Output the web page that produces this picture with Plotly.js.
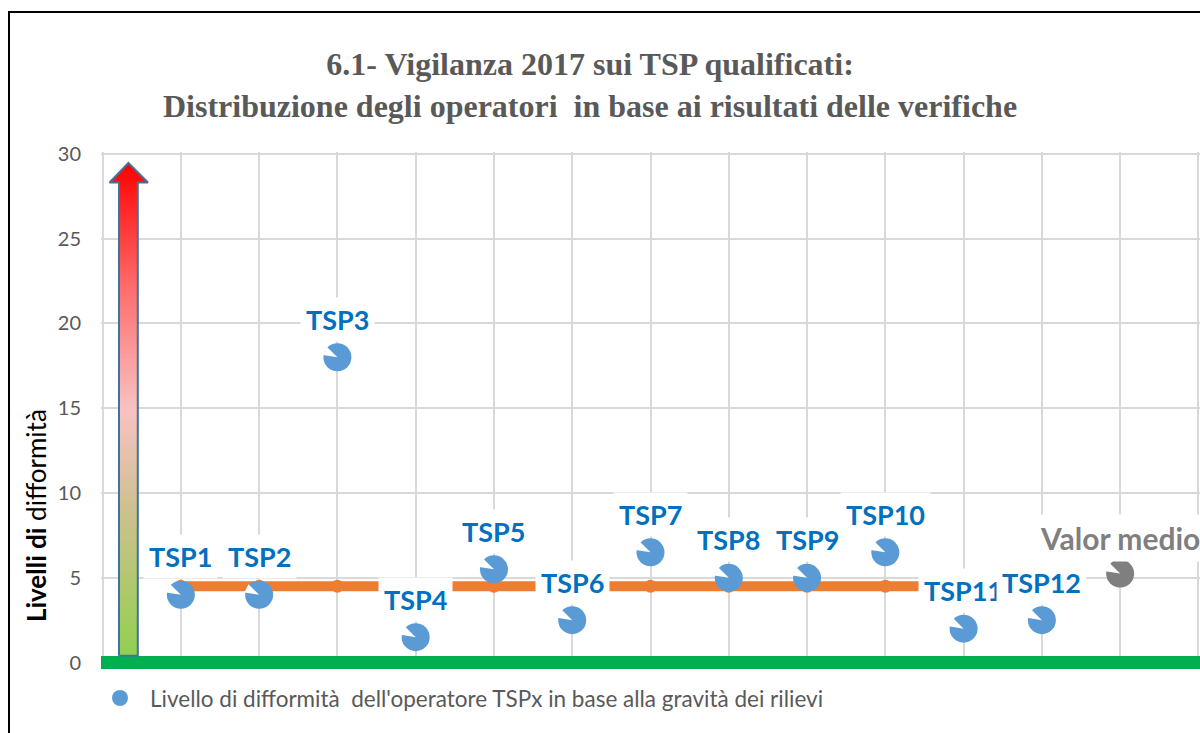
<!DOCTYPE html>
<html>
<head>
<meta charset="utf-8">
<script src="https://cdn.plot.ly/plotly-3.0.1.min.js"></script>
<style>
  html, body { margin: 0; padding: 0; background: #fff; overflow: hidden; }
  #chart { width: 1200px; height: 733px; }
  #frame { position: absolute; left: 8px; top: 11px; width: 1300px; height: 800px;
           border-left: 2px solid #000; border-top: 2px solid #000; pointer-events: none; z-index: 10; }
</style>
</head>
<body>
<div id="frame"></div>
<div id="chart"></div>
<script>
// ---- data ----
const operators = ['TSP1','TSP2','TSP3','TSP4','TSP5','TSP6','TSP7','TSP8','TSP9','TSP10','TSP11','TSP12'];
const levels    = [4, 4, 18, 1.5, 5.5, 2.5, 6.5, 5, 5, 6.5, 2, 2.5];
const medianLine = [4.5, 4.5, 4.5, 4.5, 4.5, 4.5, 4.5, 4.5, 4.5, 4.5, 4.5, 4.5];
const meanLabel = 'Valor medio';
const meanValue = 5.25;
const yTicks = [0, 5, 10, 15, 20, 25, 30];
const legendName = "Livello di difformit\u00e0 \u00a0dell'operatore TSPx in base alla gravit\u00e0 dei rilievi";

// decorative severity arrow (outline in axis units)
const arrowX = [0.21, 0.21, 0.09, 0.33, 0.58, 0.45, 0.45, 0.21];
const arrowY = [0.4, 28.3, 28.3, 29.45, 28.3, 28.3, 0.4, 0.4];

const xs = operators.map((_, i) => i + 1);
const meanX = operators.length + 1;

const blue = '#5b9bd5';
const labelBlue = '#0070c0';
const grey = '#7f7f7f';

const traces = [
  {
    x: arrowX, y: arrowY, type: 'scatter', mode: 'lines', fill: 'toself',
    line: { color: '#41719c', width: 2 },
    fillgradient: { type: 'vertical',
      colorscale: [[0, '#92d050'], [0.3, '#cfc090'], [0.5, '#f9c2c2'], [0.75, '#ff6b6b'], [1, '#ff0000']] },
    hoverinfo: 'skip', showlegend: false
  },
  {
    x: xs, y: medianLine, type: 'scatter', mode: 'lines+markers',
    line: { color: '#ed7d31', width: 10 },
    marker: { color: '#ed7d31', size: 13 },
    hoverinfo: 'skip', showlegend: false
  },
  {
    x: xs, y: levels, type: 'scatter', mode: 'markers', name: legendName,
    marker: { color: blue, size: 28, line: { width: 0 } },
    showlegend: true
  },
  {
    x: [meanX], y: [meanValue], type: 'scatter', mode: 'markers',
    marker: { color: grey, size: 28, line: { width: 0 } },
    showlegend: false
  },
  {
    x: xs.concat([meanX]), y: levels.concat([meanValue]), type: 'scatter', mode: 'markers',
    marker: { symbol: 'arrow', angle: 117, color: '#ffffff', size: 15, line: { width: 0 } },
    hoverinfo: 'skip', showlegend: false
  }
];

const annotations = operators.map((name, i) => ({
  x: xs[i], y: levels[i], xref: 'x', yref: 'y', text: '<b>' + name + '</b>',
  showarrow: false, yshift: 38, bgcolor: '#ffffff', borderpad: 5,
  font: { family: 'Lato, sans-serif', size: 27, color: labelBlue }
}));
annotations.push({
  x: meanX, y: meanValue, xref: 'x', yref: 'y', text: '<b>' + meanLabel + '</b>',
  showarrow: false, yshift: 36, bgcolor: '#ffffff', borderpad: 5,
  font: { family: 'Lato, sans-serif', size: 30, color: grey }
});
annotations.push({
  xref: 'paper', yref: 'paper', x: -0.059, y: 0.292, xanchor: 'center', yanchor: 'middle',
  textangle: -90, showarrow: false,
  text: '<b>Livelli di</b> difformit\u00e0',
  font: { family: 'Lato, sans-serif', size: 26, color: '#000000' }
});

const layout = {
  width: 1200, height: 733,
  margin: { l: 101, r: 0, t: 152, b: 67 },
  paper_bgcolor: '#ffffff', plot_bgcolor: '#ffffff',
  title: {
    text: '<b>6.1- Vigilanza 2017 sui TSP qualificati:</b><br><b>Distribuzione degli operatori \u00a0in base ai risultati delle verifiche</b>',
    x: 0.4917, xanchor: 'center', xref: 'container',
    y: 0.897, yanchor: 'middle', yref: 'container',
    font: { family: 'Liberation Serif, serif', size: 32, color: '#595959' }
  },
  xaxis: {
    range: [-0.02, 14.02], dtick: 1, tick0: 0, showticklabels: false,
    showgrid: true, gridcolor: '#d9d9d9', gridwidth: 2, zeroline: false, showline: false, ticks: ''
  },
  yaxis: {
    range: [-0.2, 30.1], tickvals: yTicks, ticktext: yTicks.map(String),
    showgrid: true, gridcolor: '#d9d9d9', gridwidth: 2,
    zeroline: true, zerolinecolor: '#00b050', zerolinewidth: 13,
    showline: false, ticks: '', ticklabelstandoff: 19,
    tickfont: { family: 'Lato, sans-serif', size: 20, color: '#595959' }
  },
  showlegend: true,
  legend: {
    orientation: 'h', x: -0.01, xanchor: 'left', y: -0.063, yanchor: 'middle',
    itemwidth: 50,
    font: { family: 'Lato, sans-serif', size: 22.5, color: '#595959' },
    bgcolor: 'rgba(0,0,0,0)'
  },
  annotations: annotations
};

Plotly.newPlot('chart', traces, layout, { displayModeBar: false, staticPlot: true });
</script>
</body>
</html>
